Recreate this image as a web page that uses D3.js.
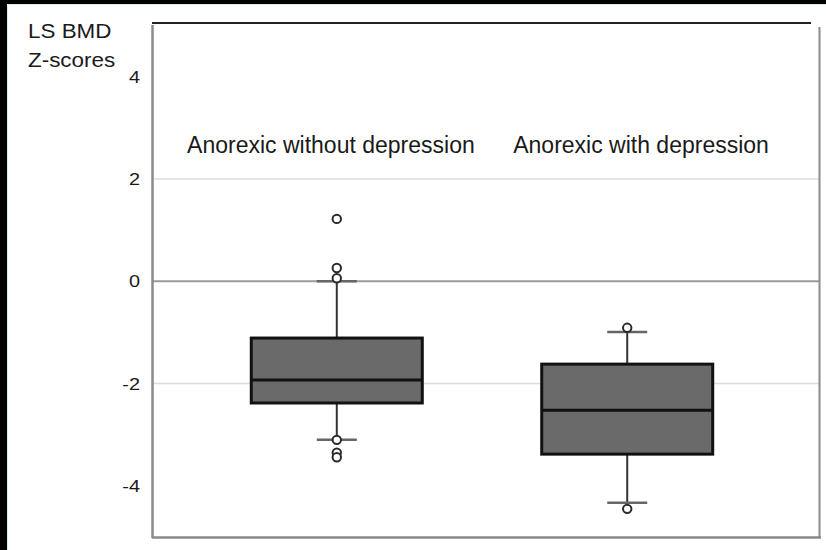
<!DOCTYPE html>
<html>
<head>
<meta charset="utf-8">
<script src="https://cdn.jsdelivr.net/npm/d3@7/dist/d3.min.js"></script>
<style>
  html, body { margin: 0; padding: 0; background: #fff; }
  svg { display: block; }
  text { font-family: "Liberation Sans", Arial, sans-serif; fill: #1a1a1a; }
</style>
</head>
<body>
<svg id="chart" width="826" height="550"></svg>
<script>
// Lumbar spine BMD Z-scores by group
const categories = ["Anorexic without depression", "Anorexic with depression"];
const q1 = [-2.38, -3.38];
const median = [-1.93, -2.52];
const q3 = [-1.11, -1.62];
const whiskerLow = [-3.10, -4.33];
const whiskerHigh = [0.0, -0.99];
const points = [
  [1.22, 0.26, 0.06, -3.10, -3.35, -3.44],
  [-0.91, -4.45]
];
const yTicks = [4, 2, 0, -2, -4];
const gridValues = [2, -2];
const titleLines = ["LS BMD", "Z-scores"];

const W = 826, H = 550;
const plot = { left: 152, right: 820, top: 23, bottom: 537 };

const svg = d3.select("#chart");

// outer frame strips
svg.append("rect").attr("x", 0).attr("y", 0).attr("width", W).attr("height", 4).attr("fill", "#000");
svg.append("rect").attr("x", 0).attr("y", 0).attr("width", 7).attr("height", H).attr("fill", "#000");
svg.append("line").attr("x1", 7.5).attr("x2", W).attr("y1", 4.5).attr("y2", 4.5)
  .attr("stroke", "#d6eef2").attr("stroke-width", 1);
svg.append("line").attr("x1", 7.5).attr("x2", 7.5).attr("y1", 4.5).attr("y2", H)
  .attr("stroke", "#d6eef2").attr("stroke-width", 1);

const y = d3.scaleLinear().domain([-5, 5.05]).range([plot.bottom, plot.top]);

const xLabel = d3.scalePoint().domain(categories)
  .range([plot.left, plot.right]).padding(0.577);
const xBox = d3.scalePoint().domain(categories)
  .range([plot.left - 4, plot.right - 4]).padding(0.65);
const boxW = 171, capW = 40;

// gridlines
svg.append("g").selectAll("line").data(gridValues).join("line")
  .attr("x1", plot.left).attr("x2", plot.right)
  .attr("y1", d => y(d)).attr("y2", d => y(d))
  .attr("stroke", "#dcdcdc").attr("stroke-width", 1.5);
svg.append("line")
  .attr("x1", plot.left).attr("x2", plot.right)
  .attr("y1", y(0)).attr("y2", y(0))
  .attr("stroke", "#9a9a9a").attr("stroke-width", 2);

// plot frame
svg.append("line").attr("x1", plot.left).attr("x2", 811).attr("y1", plot.top).attr("y2", plot.top)
  .attr("stroke", "#222").attr("stroke-width", 1.8);
svg.append("line").attr("x1", plot.left + 0.5).attr("x2", plot.left + 0.5).attr("y1", plot.top + 2).attr("y2", plot.bottom + 1)
  .attr("stroke", "#8a8a8a").attr("stroke-width", 2.5);
svg.append("line").attr("x1", plot.left).attr("x2", plot.right + 1).attr("y1", plot.bottom + 0.5).attr("y2", plot.bottom + 0.5)
  .attr("stroke", "#8a8a8a").attr("stroke-width", 2.5);
svg.append("line").attr("x1", plot.right - 0.5).attr("x2", plot.right - 0.5).attr("y1", 27).attr("y2", plot.bottom + 1)
  .attr("stroke", "#8a8a8a").attr("stroke-width", 2);

// y tick labels
svg.append("g").selectAll("text").data(yTicks).join("text")
  .attr("transform", d => `translate(140,${y(d)}) scale(1.17,1)`)
  .attr("text-anchor", "end").attr("dy", "0.36em")
  .attr("font-size", 17)
  .text(d => d);

// y title
svg.append("g").selectAll("text").data(titleLines).join("text")
  .attr("transform", (d, i) => `translate(28,${38 + i * 29}) scale(1.15,1)`)
  .attr("font-size", 19.5)
  .text(d => d);

// category labels
svg.append("g").selectAll("text").data(categories).join("text")
  .attr("x", d => xLabel(d)).attr("y", 153)
  .attr("text-anchor", "middle").attr("font-size", 23)
  .text(d => d);

// boxes
const g = svg.append("g").selectAll("g").data(categories).join("g")
  .attr("transform", d => `translate(${xBox(d)},0)`);

g.append("line")
  .attr("x1", 0).attr("x2", 0)
  .attr("y1", (d, i) => y(whiskerHigh[i])).attr("y2", (d, i) => y(q3[i]))
  .attr("stroke", "#333").attr("stroke-width", 2);
g.append("line")
  .attr("x1", 0).attr("x2", 0)
  .attr("y1", (d, i) => y(q1[i])).attr("y2", (d, i) => y(whiskerLow[i]))
  .attr("stroke", "#333").attr("stroke-width", 2);
g.append("line")
  .attr("x1", -capW / 2).attr("x2", capW / 2)
  .attr("y1", (d, i) => y(whiskerHigh[i])).attr("y2", (d, i) => y(whiskerHigh[i]))
  .attr("stroke", "#666").attr("stroke-width", 2.5);
g.append("line")
  .attr("x1", -capW / 2).attr("x2", capW / 2)
  .attr("y1", (d, i) => y(whiskerLow[i])).attr("y2", (d, i) => y(whiskerLow[i]))
  .attr("stroke", "#666").attr("stroke-width", 2.5);

g.append("rect")
  .attr("x", -boxW / 2).attr("width", boxW)
  .attr("y", (d, i) => y(q3[i]))
  .attr("height", (d, i) => y(q1[i]) - y(q3[i]))
  .attr("fill", "#6a6a6a").attr("stroke", "#111").attr("stroke-width", 3);
g.append("line")
  .attr("x1", -boxW / 2).attr("x2", boxW / 2)
  .attr("y1", (d, i) => y(median[i])).attr("y2", (d, i) => y(median[i]))
  .attr("stroke", "#111").attr("stroke-width", 3);

g.each(function (d, i) {
  d3.select(this).selectAll("circle").data(points[i]).join("circle")
    .attr("cx", 0).attr("cy", v => y(v)).attr("r", 4.2)
    .attr("fill", "#fff").attr("stroke", "#2a2a2a").attr("stroke-width", 2);
});
</script>
</body>
</html>
